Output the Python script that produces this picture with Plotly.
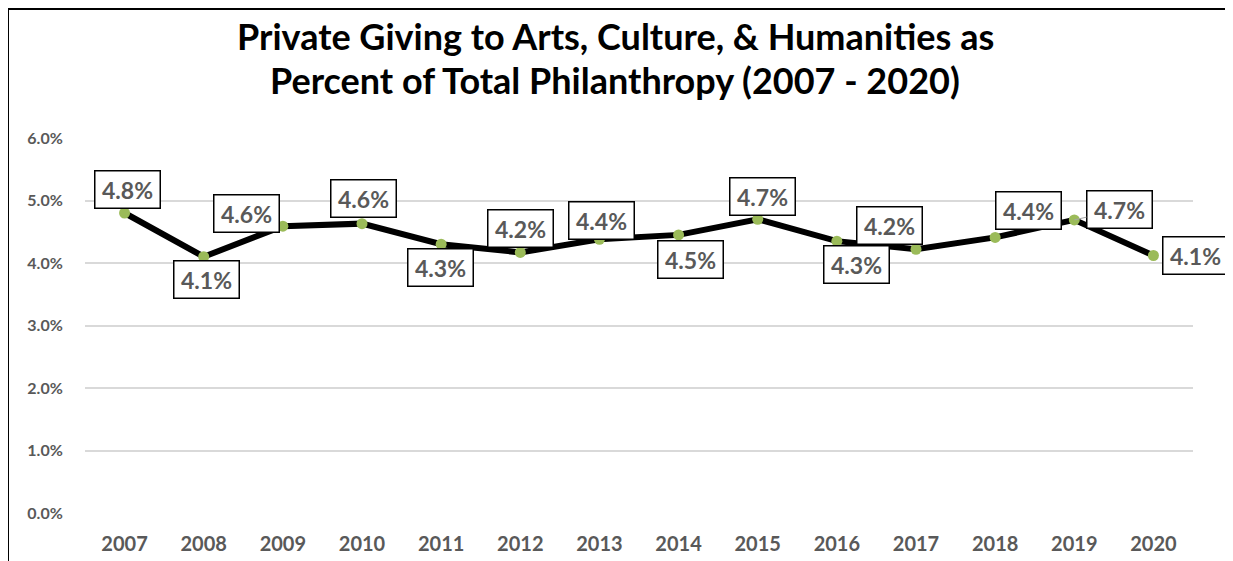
import plotly.graph_objects as go

# data
years = [2007, 2008, 2009, 2010, 2011, 2012, 2013,
         2014, 2015, 2016, 2017, 2018, 2019, 2020]
share = [4.80, 4.10, 4.59, 4.63, 4.30, 4.17, 4.38,
         4.45, 4.70, 4.35, 4.22, 4.41, 4.69, 4.12]
labels = ['4.8%', '4.1%', '4.6%', '4.6%', '4.3%', '4.2%', '4.4%',
          '4.5%', '4.7%', '4.3%', '4.2%', '4.4%', '4.7%', '4.1%']
y_ticks = [0, 1, 2, 3, 4, 5, 6]
y_tick_text = ['0.0%', '1.0%', '2.0%', '3.0%', '4.0%', '5.0%', '6.0%']
title_lines = ['Private Giving to Arts, Culture, & Humanities as',
               'Percent of Total Philanthropy (2007 - 2020)']

# label offsets in pixels (text box centre relative to point)
label_dx = [3, 3, -36, 1, -1, 0, 2, 12, 5, 20, -27, 33, 45, 42]
label_dy = [-24, 23, -13, -25, 23, -24, -19, 25, -23, 23, -24, -27, -10, 0]

# page sits 8px in from the window corner, so size the figure to fit
W, H = 1225, 553
L, R, T, B = 77, 40, 130, 48
pw, ph = W - L - R, H - T - B

fig = go.Figure()
fig.add_trace(go.Scatter(
    x=years, y=share, mode='lines+markers',
    line=dict(color='black', width=6),
    marker=dict(color='#9BBB59', size=11),
    showlegend=False, hoverinfo='skip'))

gray = '#595959'
for i in range(len(years)):
    leader = years[i] == 2019
    fig.add_annotation(
        x=years[i], y=share[i], text='<b>' + labels[i] + '</b>',
        showarrow=True, ax=label_dx[i], ay=label_dy[i],
        arrowhead=0, arrowwidth=1,
        arrowcolor='#A6A6A6' if leader else 'rgba(0,0,0,0)',
        font=dict(family='Lato', size=23, color=gray),
        bgcolor='white', bordercolor='black', borderwidth=1.5,
        borderpad=2, width=60, height=32)

# title, two lines placed separately for tight spacing
for text, py in zip(title_lines, [28, 72]):
    fig.add_annotation(
        xref='paper', yref='paper', x=(607 - L) / pw, y=(H - B - py) / ph,
        text='<b>' + text + '</b>', showarrow=False,
        xanchor='center', yanchor='middle',
        font=dict(family='Lato', size=36, color='black'))

# outer chart frame
fig.add_shape(type='rect', xref='paper', yref='paper',
              x0=(0 - L) / pw, x1=(1223 - L) / pw,
              y0=(H - B - 575) / ph, y1=(H - B - 1) / ph,
              line=dict(color='black', width=2), layer='above')

fig.update_layout(
    width=W, height=H,
    margin=dict(l=L, r=R, t=T, b=B),
    paper_bgcolor='white', plot_bgcolor='white',
    xaxis=dict(
        range=[2006.5, 2020.5], tickvals=years, automargin=False,
        showgrid=False, zeroline=False, showline=False,
        ticks='outside', ticklen=13, tickcolor='rgba(0,0,0,0)',
        tickfont=dict(family='Lato', size=20, color=gray, weight='bold')),
    yaxis=dict(
        range=[0, 6], tickvals=y_ticks, ticktext=y_tick_text, automargin=False,
        showgrid=True, gridcolor='#D9D9D9', gridwidth=1.5,
        zeroline=False, showline=False,
        ticks='outside', ticklen=18, tickcolor='rgba(0,0,0,0)',
        tickfont=dict(family='Lato', size=16, color=gray, weight='bold')),
)

fig.write_html('out.html')
